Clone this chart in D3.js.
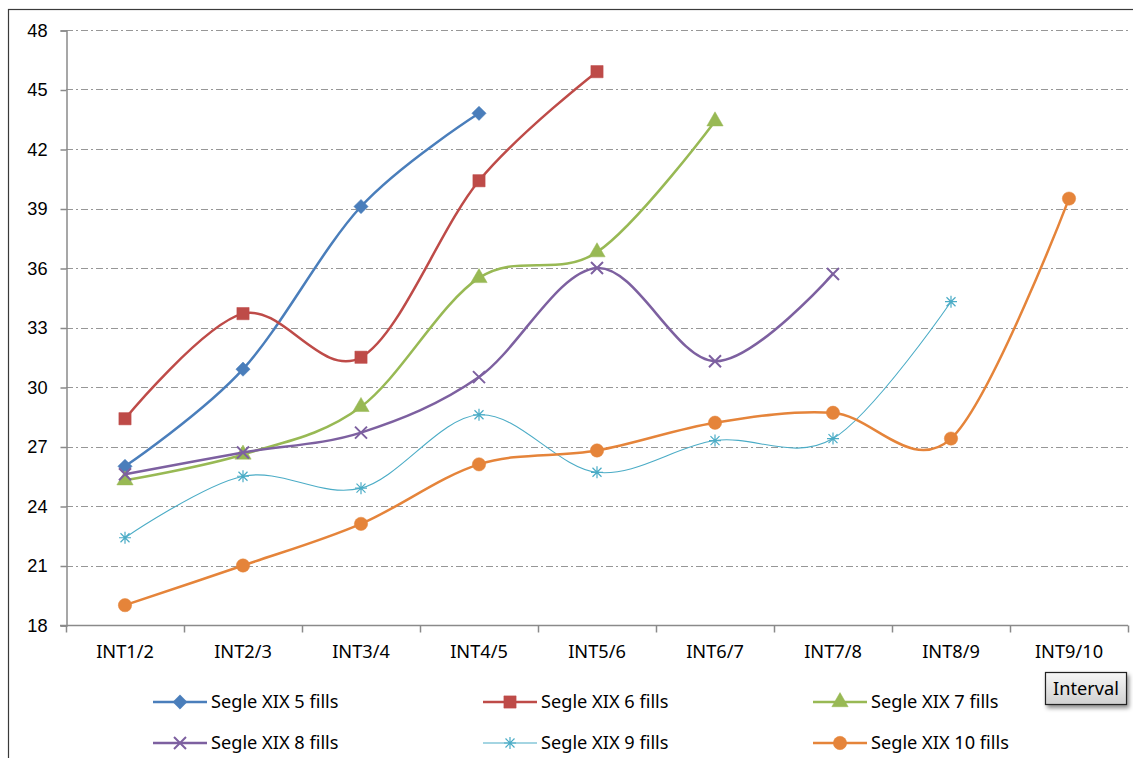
<!DOCTYPE html>
<html>
<head>
<meta charset="utf-8">
<script src="https://cdn.jsdelivr.net/npm/d3@7"></script>
<style>
  body { margin: 0; background: #fff; }
  svg { display: block; font-family: "Noto Sans", "Open Sans", sans-serif; }
</style>
</head>
<body>
<div id="chart"></div>
<script>
(function() {

const w = 1133;
const h = 758;

const categories = ["INT1/2", "INT2/3", "INT3/4", "INT4/5", "INT5/6", "INT6/7", "INT7/8", "INT8/9", "INT9/10"];
const seriesNames = ["Segle XIX 5 fills", "Segle XIX 6 fills", "Segle XIX 7 fills",
                     "Segle XIX 8 fills", "Segle XIX 9 fills", "Segle XIX 10 fills"];
const fills5 = [26.0, 30.9, 39.1, 43.8];
const fills6 = [28.4, 33.7, 31.5, 40.4, 45.9];
const fills7 = [25.3, 26.6, 29.0, 35.5, 36.8, 43.4];
const fills8 = [25.6, 26.7, 27.7, 30.5, 36.0, 31.3, 35.7];
const fills9 = [22.4, 25.5, 24.9, 28.6, 25.7, 27.3, 27.4, 34.3];
const fills10 = [19.0, 21.0, 23.1, 26.1, 26.8, 28.2, 28.7, 27.4, 39.5];
const yTicks = [18, 21, 24, 27, 30, 33, 36, 39, 42, 45, 48];

const colours = ["#4A7EBB", "#BE4B48", "#98B954", "#7D60A0", "#4BACC6", "#E5843A"];
const markers = ["diamond", "square", "triangle", "cross", "star", "circle"];
const widths = [2.5, 2.5, 2.5, 2.5, 1.1, 2.5];

const allSeries = [fills5, fills6, fills7, fills8, fills9, fills10];

const left = 66, right = 1128, top = 30, bottom = 625;
const fontSize = 18.2;

const svg = d3.select("#chart")
    .append("svg")
    .attr("width", w)
    .attr("height", h);

// outer chart frame
svg.append("rect")
    .attr("x", 8.5).attr("y", 9.5)
    .attr("width", w + 20).attr("height", h + 20)
    .attr("fill", "none")
    .attr("stroke", "#3a3a3a")
    .attr("stroke-width", 1.2);

const x = d3.scaleBand()
    .domain(categories)
    .range([left, right]);

const y = d3.scaleLinear()
    .domain([18, 48])
    .range([bottom, top]);

// gridlines
svg.append("g")
    .selectAll("line")
    .data(yTicks.slice(1))
    .enter()
    .append("line")
    .attr("x1", left).attr("x2", right)
    .attr("y1", d => Math.round(y(d)) + 0.5)
    .attr("y2", d => Math.round(y(d)) + 0.5)
    .attr("stroke", "#979797")
    .attr("stroke-width", 1)
    .attr("stroke-dasharray", "7,3,2,3");

// y axis
const yAxis = svg.append("g")
    .attr("transform", "translate(" + (left + 0.5) + ",0.5)")
    .call(d3.axisLeft(y).tickValues(yTicks).tickSize(6).tickPadding(13).tickFormat(d3.format("d")));
yAxis.select(".domain").attr("stroke", "#8a8a8a").attr("stroke-width", 1.5);
yAxis.selectAll(".tick line").attr("stroke", "#8a8a8a").attr("stroke-width", 1.5);
yAxis.selectAll("text").attr("font-size", fontSize).attr("fill", "#000")
    .attr("font-family", null);

// x axis
const xAxis = svg.append("g")
    .attr("transform", "translate(0," + (bottom + 0.5) + ")");
xAxis.append("line")
    .attr("x1", left - 6).attr("x2", right)
    .attr("stroke", "#8a8a8a").attr("stroke-width", 1.5);
xAxis.selectAll("line.tk")
    .data(categories.concat(["end"]))
    .enter()
    .append("line")
    .attr("class", "tk")
    .attr("x1", (d, i) => Math.round(left + i * x.bandwidth()) + 0.5)
    .attr("x2", (d, i) => Math.round(left + i * x.bandwidth()) + 0.5)
    .attr("y1", 0).attr("y2", 7)
    .attr("stroke", "#8a8a8a").attr("stroke-width", 1.5);
xAxis.selectAll("text")
    .data(categories)
    .enter()
    .append("text")
    .attr("x", d => x(d) + x.bandwidth() / 2)
    .attr("y", 32)
    .attr("text-anchor", "middle")
    .attr("font-size", fontSize)
    .text(d => d);

function symbolFor(kind) {
    if (kind === "diamond") return d3.symbol().type(d3.symbolDiamond2).size(130)();
    if (kind === "square") return d3.symbol().type(d3.symbolSquare).size(150)();
    if (kind === "triangle") return d3.symbol().type(d3.symbolTriangle).size(115)();
    if (kind === "circle") return d3.symbol().type(d3.symbolCircle).size(140)();
    if (kind === "cross") return "M-6,-6L6,6M-6,6L6,-6";
    return "M-6,0L6,0M0,-6L0,6M-4.5,-4.5L4.5,4.5M-4.5,4.5L4.5,-4.5";
}

function drawMarker(g, kind, colour, cx, cy) {
    const open = kind === "cross" || kind === "star";
    g.append("path")
        .attr("d", symbolFor(kind))
        .attr("transform", "translate(" + cx + "," + cy + ")")
        .attr("fill", open ? "none" : colour)
        .attr("stroke", colour)
        .attr("stroke-width", open ? (kind === "cross" ? 2 : 1.2) : 0.5);
}

const line = d3.line()
    .x((d, i) => x(categories[i]) + x.bandwidth() / 2)
    .y(d => y(d))
    .curve(d3.curveCatmullRom.alpha(0));

allSeries.forEach(function(vals, s) {
    const g = svg.append("g");
    g.append("path")
        .attr("d", line(vals))
        .attr("fill", "none")
        .attr("stroke", colours[s])
        .attr("stroke-width", widths[s])
        .attr("stroke-linejoin", "round");
    vals.forEach(function(v, i) {
        drawMarker(g, markers[s], colours[s], x(categories[i]) + x.bandwidth() / 2, y(v));
    });
});

// legend
const legX = [153, 483, 813];
const legY = [702, 743];
seriesNames.forEach(function(name, s) {
    const lx = legX[s % 3], ly = legY[Math.floor(s / 3)];
    const g = svg.append("g");
    g.append("line")
        .attr("x1", lx).attr("x2", lx + 54)
        .attr("y1", ly).attr("y2", ly)
        .attr("stroke", colours[s])
        .attr("stroke-width", widths[s]);
    drawMarker(g, markers[s], colours[s], lx + 27, ly);
    g.append("text")
        .attr("x", lx + 58)
        .attr("y", ly + 6)
        .attr("font-size", fontSize)
        .text(name);
});

// axis title box
const defs = svg.append("defs");
const grad = defs.append("linearGradient")
    .attr("id", "boxfill").attr("x1", 0).attr("y1", 0).attr("x2", 0).attr("y2", 1);
grad.append("stop").attr("offset", "0%").attr("stop-color", "#f7f7f7");
grad.append("stop").attr("offset", "100%").attr("stop-color", "#d0d0d0");
const filt = defs.append("filter").attr("id", "shadow")
    .attr("x", "-20%").attr("y", "-20%").attr("width", "150%").attr("height", "160%");
filt.append("feDropShadow")
    .attr("dx", 2).attr("dy", 3).attr("stdDeviation", 2)
    .attr("flood-color", "#000").attr("flood-opacity", 0.45);

svg.append("rect")
    .attr("x", 1045.5).attr("y", 672.5)
    .attr("width", 81).attr("height", 32)
    .attr("fill", "url(#boxfill)")
    .attr("stroke", "#222")
    .attr("stroke-width", 1.2)
    .attr("filter", "url(#shadow)");
svg.append("text")
    .attr("x", 1086).attr("y", 695)
    .attr("text-anchor", "middle")
    .attr("font-size", fontSize)
    .text("Interval");

})();
</script>
</body>
</html>
